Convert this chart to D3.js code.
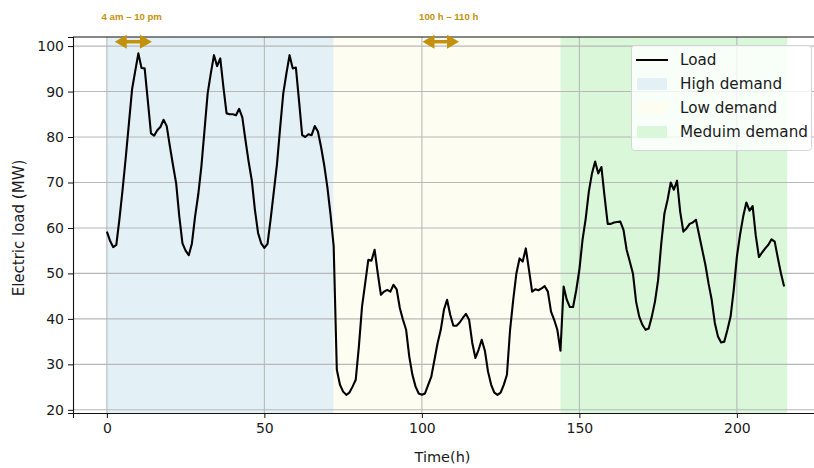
<!DOCTYPE html>
<html><head><meta charset="utf-8">
<script src="https://cdn.jsdelivr.net/npm/d3@7"></script>
<style>body{margin:0;background:#fff} svg{display:block} text{font-family:"DejaVu Sans",sans-serif;fill:#1a1a1a}</style>
</head><body><svg id="c" width="814" height="468"></svg>
<script>
// Hourly electric load (MW), hours 0..215
const load = [
59.2,57.2,55.8,56.3,62,68.5,75.5,83,90.5,94.5,98.4,95.2,95.1,88,80.8,80.3,81.5,82.2,83.8,82.4,78,73.8,69.8,62.5,
56.6,55,54,56.6,62.5,67.3,73.5,81.5,89.6,94,98,95.6,97.3,91,85.2,85,85,84.8,86.2,84.3,79.3,74.6,70.5,64,
58.9,56.6,55.6,56.5,62,68,74,82,89.6,94,98,95.1,95.3,88,80.4,80,80.6,80.4,82.4,81.2,77.8,73.8,69,63,
56,28.8,25.5,24,23.3,23.8,25.1,26.6,33.9,42.7,47.8,53,52.8,55.2,50,45.3,46,46.4,46,47.5,46.5,42.4,39.8,37.6,
31.7,27.7,25.1,23.6,23.3,23.6,25.5,27.3,31,34.7,37.6,42,44.2,40.9,38.5,38.5,39.2,40.2,41.1,39.8,34.7,31.4,33.2,35.4,
33,28.4,25.5,23.8,23.3,23.8,25.5,27.7,37.6,44.2,50,53.3,52.6,55.5,50.8,46,46.5,46.3,46.7,47.2,46,41.6,39.8,37.6,
33,47.1,44.2,42.6,42.6,46.3,50.8,57.4,62,68,72,74.6,72,73.4,66.9,60.9,60.9,61.2,61.3,61.4,59.6,55.2,52.6,50,
43.8,40.5,38.7,37.6,37.9,40.5,43.8,48.6,56.6,63.2,66.2,70,68.4,70.4,63.6,59.2,59.9,60.9,61.2,61.8,58.5,55.2,51.9,47.8,
44.2,39.1,36.1,34.8,35,37.6,40.5,46.4,53.7,58.5,62.5,65.6,63.8,64.8,58.3,53.6,54.6,55.5,56.3,57.5,57,53.4,50,47.1
];
const regimeNames = ["High demand","Low demand","Meduim demand"];
const regimeStart = [0,72,144];
const regimeEnd = [72,144,216];
const regimeColors = ["#e3f1f6","#fdfdf1","#daf7da"];
const xTicks = [0,50,100,150,200];
const yTicks = [20,30,40,50,60,70,80,90,100];
const annotLabels = ["4 am \u2013 10 pm","100 h \u2013 110 h"];
const annotStart = [2.5,100.2];
const annotEnd = [14.3,111.8];
const annotTextX = [7.9,108.5];

const svg = d3.select("#c");
const x = d3.scaleLinear().domain([-10.75,225.75]).range([73,818]);
const y = d3.scaleLinear().domain([19.3,102]).range([413,37]);
const gold = "#c4910c";
const fs = 14;

// spans
svg.append("g").selectAll("rect").data(regimeNames).join("rect")
  .attr("x",(d,i)=>x(regimeStart[i])).attr("width",(d,i)=>x(regimeEnd[i])-x(regimeStart[i]))
  .attr("y",y(102)).attr("height",y(19.3)-y(102)).attr("fill",(d,i)=>regimeColors[i]);

// grid
const grid = svg.append("g").attr("stroke","#b8b8b8").attr("stroke-width",1.1);
grid.selectAll(".gx").data(xTicks).join("line").attr("x1",d=>x(d)).attr("x2",d=>x(d)).attr("y1",37).attr("y2",413);
grid.selectAll(".gy").data(yTicks).join("line").attr("x1",73).attr("x2",818).attr("y1",d=>y(d)).attr("y2",d=>y(d));

// line
svg.append("path").datum(load).attr("fill","none").attr("stroke","#000").attr("stroke-width",2.1)
  .attr("stroke-linejoin","round")
  .attr("d", d3.line().x((d,i)=>x(i)).y(d=>y(d)));

// axes
const xa = svg.append("g").attr("transform","translate(0,413)")
  .call(d3.axisBottom(x).tickValues(xTicks).tickSize(5).tickPadding(5).tickFormat(d3.format("d")));
const ya = svg.append("g").attr("transform","translate(73,0)")
  .call(d3.axisLeft(y).tickValues(yTicks).tickSize(5).tickPadding(4).tickFormat(d3.format("d")));
[xa,ya].forEach(g=>{
  g.select(".domain").attr("stroke","#111").attr("stroke-width",1.1);
  g.selectAll(".tick line").attr("stroke","#111");
  g.selectAll("text").style("font-size",fs+"px").style("font-family","DejaVu Sans").attr("fill","#1a1a1a");
});
// top spine
svg.append("line").attr("x1",73).attr("x2",818).attr("y1",37).attr("y2",37).attr("stroke","#111").attr("stroke-width",1.1);

// axis labels
svg.append("text").attr("x",x.range().reduce((a,b)=>a+b)/2 - 3).attr("y",462).attr("text-anchor","middle")
  .style("font-size","14.5px").text("Time(h)");
svg.append("text").attr("transform","translate(24,228) rotate(-90)").attr("text-anchor","middle")
  .style("font-size","15px").text("Electric load (MW)");

// legend
const lg = svg.append("g");
lg.append("rect").attr("x",631.5).attr("y",45.5).attr("width",180).attr("height",105).attr("rx",3)
  .attr("fill","#fff").attr("fill-opacity",0.8).attr("stroke","#d4d4d4");
const legendLabels = ["Load"].concat(regimeNames);
legendLabels.forEach((lab,i)=>{
  const cy = 60 + i*24;
  if(i===0){
    lg.append("line").attr("x1",636).attr("x2",668).attr("y1",cy).attr("y2",cy).attr("stroke","#000").attr("stroke-width",2);
  } else {
    lg.append("rect").attr("x",637).attr("y",cy-6).attr("width",30).attr("height",12).attr("fill",regimeColors[i-1]);
  }
  lg.append("text").attr("x",680).attr("y",cy).attr("dy","0.35em").style("font-size","15.2px").text(lab);
});

// annotations
const ann = svg.append("g");
annotLabels.forEach((lab,i)=>{
  const x1 = x(annotStart[i]), x2 = x(annotEnd[i]), ay = 41.7, hl = 12, hw = 7;
  ann.append("line").attr("x1",x1+hl-1).attr("x2",x2-hl+1).attr("y1",ay).attr("y2",ay).attr("stroke",gold).attr("stroke-width",3.5);
  ann.append("path").attr("fill",gold).attr("d",`M${x1},${ay}L${x1+hl},${ay-hw}L${x1+hl},${ay+hw}Z`);
  ann.append("path").attr("fill",gold).attr("d",`M${x2},${ay}L${x2-hl},${ay-hw}L${x2-hl},${ay+hw}Z`);
  ann.append("text").attr("x",x(annotTextX[i])).attr("y",20).attr("text-anchor","middle")
    .style("font-family","'Liberation Sans Narrow','Liberation Sans',sans-serif").style("font-weight","bold")
    .style("font-size","9.6px").style("fill",gold).text(lab);
});
</script></body></html>
